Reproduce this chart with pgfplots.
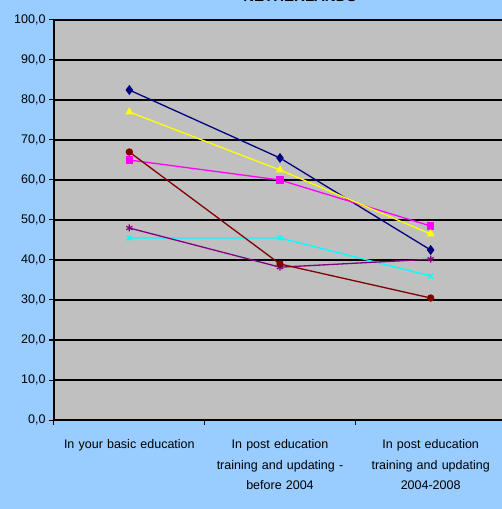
\documentclass[border=0pt]{standalone}
\usepackage{pgfplots}
\pgfplotsset{compat=1.18}
\usepackage{fontspec}
\setmainfont{Liberation Sans}
\definecolor{bgblue}{HTML}{99CCFF}
\definecolor{plotgray}{HTML}{C0C0C0}
\definecolor{snavy}{HTML}{000080}
\definecolor{smag}{HTML}{FF00FF}
\definecolor{syel}{HTML}{FFFF00}
\definecolor{scyan}{HTML}{00FFFF}
\definecolor{spurp}{HTML}{800080}
\definecolor{sred}{HTML}{800000}
\begin{document}
\begin{tikzpicture}[x=1pt,y=1pt]
\clip (0,0) rectangle (502,509);
\fill[bgblue] (0,0) rectangle (502,509);
\node[font=\bfseries\fontsize{15}{17}\selectfont, anchor=base] at (300,507) {NETHERLANDS};
\begin{axis}[
  at={(54pt,89pt)}, anchor=south west,
  scale only axis, width=452pt, height=400pt,
  xmin=-0.5, xmax=2.5, ymin=0, ymax=100,
  axis x line*=bottom, axis y line*=left,
  axis line style={-, black, line width=1.2pt},
  axis background/.style={fill=plotgray, draw=gray!60!black, line width=0.8pt},
  ytick={0,10,...,100},
  xtick={0,1,2},
  xticklabels={In your basic education, In post education\\training and updating -\\before 2004, In post education\\training and updating\\2004-2008},
  minor xtick={-0.5,0.5,1.5},
  major x tick style={draw=none},
  tick align=outside,
  major tick length=5pt, minor tick length=5pt,
  every tick/.style={black, line width=1pt},
  ymajorgrids,
  major grid style={black, line width=1.5pt},
  extra y ticks={50}, extra y tick labels={},
  extra y tick style={grid style={black, line width=2.2pt}},
  /pgf/number format/assume math mode=true,
  yticklabel style={/pgf/number format/.cd, fixed, fixed zerofill, precision=1, use comma},
  ticklabel style={font=\fontsize{12.5}{20.5}\selectfont},
  xticklabel style={align=center, text width=160pt, yshift=-11pt},
  clip=false,
]
\addplot[snavy, line width=1.3pt, mark=diamond*, mark size=4pt] coordinates {(0,82.5) (1,65.5) (2,42.5)};
\addplot[smag, line width=1.3pt, mark=square*, mark size=3pt] coordinates {(0,65) (1,60) (2,48.5)};
\addplot[syel, line width=1.3pt, mark=triangle*, mark size=3.5pt] coordinates {(0,77) (1,62.5) (2,46.5)};
\addplot[scyan, line width=1.3pt, mark=x, mark size=3.5pt, mark options={line width=1.2pt}] coordinates {(0,45.5) (1,45.5) (2,36)};
\addplot[spurp, line width=1.3pt, mark=asterisk, mark size=3.5pt, mark options={line width=1.2pt}] coordinates {(0,48) (1,38.2) (2,40.2)};
\addplot[sred, line width=1.3pt, mark=*, mark size=3pt] coordinates {(0,67) (1,39) (2,30.5)};
\end{axis}
\end{tikzpicture}
\end{document}
